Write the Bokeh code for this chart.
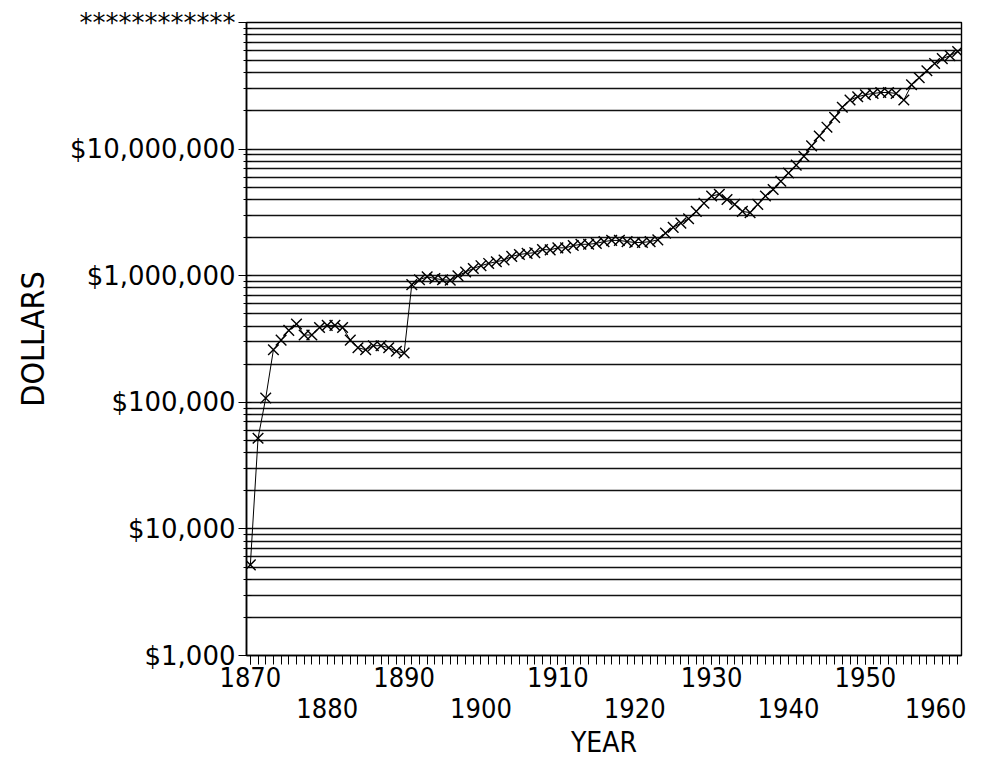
from bokeh.plotting import figure
from bokeh.models import FixedTicker, LinearAxis
from bokeh.embed import file_html
from bokeh.resources import INLINE

years = list(range(1870, 1963))
dollars = [
    5200, 52000, 108000, 260000, 310000, 370000, 415000, 340000, 340000, 390000,
    405000, 405000, 390000, 310000, 270000, 260000, 280000, 280000, 270000, 253000,
    245000, 850000, 930000, 980000, 950000, 930000, 920000, 1000000, 1070000, 1140000,
    1200000, 1250000, 1290000, 1330000, 1420000, 1470000, 1500000, 1520000, 1610000, 1600000,
    1660000, 1660000, 1730000, 1770000, 1770000, 1800000, 1860000, 1900000, 1900000, 1860000,
    1830000, 1830000, 1860000, 1920000, 2170000, 2410000, 2600000, 2820000, 3220000, 3740000,
    4260000, 4400000, 4000000, 3660000, 3220000, 3150000, 3660000, 4260000, 4800000, 5570000,
    6470000, 7470000, 8790000, 10600000, 12700000, 14900000, 17800000, 21400000, 24400000, 25900000,
    26900000, 27500000, 28000000, 28000000, 27500000, 24400000, 32200000, 36600000, 41600000, 47400000,
    51800000, 54700000, 59000000,
]

x_labels_row1 = [1870, 1890, 1910, 1930, 1950]
x_labels_row2 = [1880, 1900, 1920, 1940, 1960]
y_ticks = [1000, 10000, 100000, 1000000, 10000000, 100000000]
y_labels = ["$1,000", "$10,000", "$100,000", "$1,000,000", "$10,000,000", "************"]

minor_y = [m * d for d in y_ticks[:-1] for m in range(2, 10)]
grid_y = sorted(y_ticks + minor_y)

NARROW = "Liberation Sans Narrow, Arial Narrow, DejaVu Sans Condensed, Liberation Sans, sans-serif"
WIDE = "DejaVu Sans"

p = figure(width=966, height=761, x_range=(1869.5, 1962.5), y_range=(1000, 100000000),
           y_axis_type="log", output_backend="svg", toolbar_location=None,
           min_border_left=246, min_border_right=5, min_border_top=22, min_border_bottom=95,
           background_fill_color="white", border_fill_color="white")

p.outline_line_color = "black"
p.outline_line_width = 1.4
p.xgrid.visible = False
p.ygrid.ticker = FixedTicker(ticks=grid_y)
p.ygrid.grid_line_color = "#111111"
p.ygrid.grid_line_width = 1.5

# y axis
ya = p.yaxis[0]
ya.ticker = FixedTicker(ticks=y_ticks, minor_ticks=minor_y)
ya.major_label_overrides = {t: lab for t, lab in zip(y_ticks, y_labels)}
ya.major_label_text_font = WIDE
ya.major_label_text_font_size = "26px"
ya.major_label_text_color = "black"
ya.major_label_standoff = 3
ya.major_tick_out = 8
ya.major_tick_in = 5
ya.minor_tick_out = 3
ya.minor_tick_in = 5
ya.axis_line_width = 1.6
ya.axis_line_color = "black"
ya.major_tick_line_color = "black"
ya.minor_tick_line_color = "black"
ya.axis_label = "DOLLARS"
ya.axis_label_text_font = NARROW
ya.axis_label_text_font_size = "32px"
ya.axis_label_text_font_style = "normal"
ya.axis_label_text_color = "black"
ya.axis_label_standoff = 15

# x axis, first row of labels
xa = p.xaxis[0]
xa.ticker = FixedTicker(ticks=x_labels_row1, minor_ticks=years)
xa.major_label_text_font = NARROW
xa.major_label_text_font_size = "27px"
xa.major_label_text_color = "black"
xa.major_label_standoff = 2
xa.major_tick_out = 9
xa.major_tick_in = 0
xa.minor_tick_out = 9
xa.minor_tick_in = 0
xa.axis_line_width = 1.6
xa.axis_line_color = "black"
xa.major_tick_line_color = "black"
xa.minor_tick_line_color = "black"

# second row of year labels
xb = LinearAxis(ticker=FixedTicker(ticks=x_labels_row2))
xb.axis_line_color = None
xb.major_tick_line_color = None
xb.minor_tick_line_color = None
xb.major_label_text_font = NARROW
xb.major_label_text_font_size = "27px"
xb.major_label_text_color = "black"
xb.major_label_standoff = 2
xb.axis_label = "YEAR"
xb.axis_label_text_font = NARROW
xb.axis_label_text_font_size = "28px"
xb.axis_label_text_font_style = "normal"
xb.axis_label_text_color = "black"
xb.axis_label_standoff = 5
p.add_layout(xb, "below")

p.line(years, dollars, line_color="black", line_width=1)
p.scatter(years, dollars, marker="x", size=15, line_color="black", line_width=1.4)

open("out.html", "w").write(file_html(p, INLINE))
